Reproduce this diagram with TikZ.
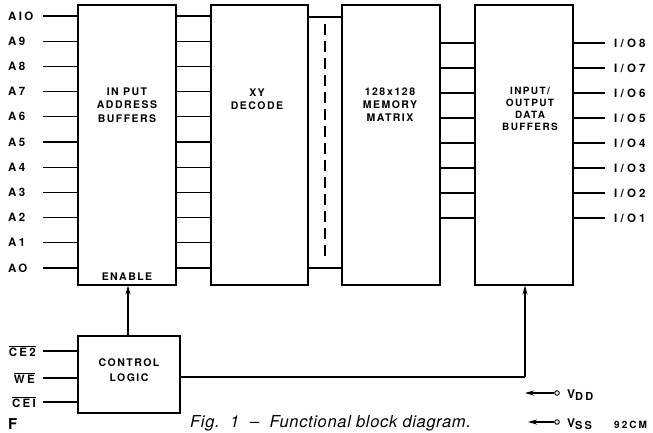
\documentclass[tikz,border=0pt]{standalone}
\usepackage{fontspec}
\setmainfont{TeX Gyre Heros}
\newfontfamily\blkfont[LetterSpace=14]{TeX Gyre Heros}
\newfontfamily\pinfont[LetterSpace=20]{TeX Gyre Heros}
\newfontfamily\iofont[LetterSpace=28]{TeX Gyre Heros}
\newfontfamily\capfont[LetterSpace=4]{TeX Gyre Heros}
\usetikzlibrary{arrows.meta}
\begin{document}
\begin{tikzpicture}[x=1pt,y=-1pt,
  wire/.style={line width=1.1pt},
  blk/.style={draw,line width=1.1pt,minimum width=98pt,minimum height=280pt,inner sep=0pt},
  ctl/.style={draw,line width=1.1pt,minimum width=102pt,minimum height=77pt,inner sep=0pt},
  txt/.style={font=\blkfont\fontsize{10.5}{13.5}\selectfont\bfseries,align=center,inner sep=0pt},
  pin/.style={font=\pinfont\fontsize{11.5}{12}\selectfont\bfseries,inner sep=0pt},
  iopin/.style={font=\iofont\fontsize{11.5}{12}\selectfont\bfseries,inner sep=0pt},
  arr/.style={line width=1.1pt,-{Stealth[length=9pt,width=5pt]}}]
\useasboundingbox (0,0) rectangle (653,433);
% blocks
\node[blk] (iab) at (127,145) {};
\node[blk,minimum width=97pt] (xyd) at (259.5,145) {};
\node[blk] (mem) at (391,145) {};
\node[blk] (iod) at (524,145) {};
\node[ctl] (ctl) at (129,374.5) {};
% block texts
\node[txt] (t1) at (127,105) {IN PUT\\ADDRESS\\BUFFERS};
\node[txt] (t2) at (257,99) {XY\\DECODE};
\node[txt,font=\blkfont\fontsize{10.5}{13}\selectfont\bfseries] (t3) at (390,105) {128\,x\,128\\MEMORY\\MATRIX};
\node[txt,font=\blkfont\fontsize{10}{12}\selectfont\bfseries] (t4) at (530,109) {INPUT/\\OUTPUT\\DATA\\BUFFERS};
\node[txt] (en) at (127,277) {ENABLE};
\node[txt,font=\blkfont\fontsize{10.5}{14.5}\selectfont\bfseries] (cl) at (129,370) {CONTROL\\LOGIC};
% address inputs and buffer->decode lines
\foreach \n/\lab [count=\i from 0] in {10/AIO,9/A9,8/A8,7/A7,6/A6,5/A5,4/A4,3/A3,2/A2,1/A1,0/AO}{
  \pgfmathsetmacro{\yy}{16+25.2*\i}
  \coordinate (ain\n) at (43,\yy);
  \node[pin,anchor=west] (la\n) at (8,\yy) {\lab};
  \draw[wire] (ain\n) -- (ain\n -| iab.west);
  \draw[wire] (iab.east |- ain\n) -- (xyd.west |- ain\n);
}
% decode <-> matrix channel
\draw[wire] (xyd.east |- 0,17) -- (mem.west |- 0,17);
\draw[wire] (xyd.east |- 0,268) -- (mem.west |- 0,268);
\coordinate (dtop) at (325,24);
\coordinate (dbot) at (325,258);
\draw[line width=1.1pt,dash pattern=on 11pt off 6pt] (dtop) -- (dbot);
% matrix -> IO buffers, IO pins
\foreach \k [count=\i from 0] in {8,7,6,5,4,3,2,1}{
  \pgfmathsetmacro{\yy}{43+25*\i}
  \coordinate (io\k) at (605,\yy);
  \draw[wire] (mem.east |- io\k) -- (iod.west |- io\k);
  \draw[wire] (iod.east |- io\k) -- (io\k);
  \node[iopin,anchor=west] (lio\k) at (614,\yy) {I/O\k};
}
% control inputs
\coordinate (c2) at (43,351);
\coordinate (cw) at (43,378);
\coordinate (c1) at (43,402);
\draw[wire] (c2) -- (c2 -| ctl.west);
\draw[wire] (cw) -- (cw -| ctl.west);
\draw[wire] (c1) -- (c1 -| ctl.west);
\node[pin,anchor=east] (lc2) at (36,351) {$\overline{\mbox{CE2}}$};
\node[pin,anchor=east] (lcw) at (35,378) {$\overline{\mbox{WE}}$};
\node[pin,anchor=east] (lc1) at (36,402) {$\overline{\mbox{CEI}}$};
% control arrows
\draw[arr] (ctl.north -| 128,0) -- (iab.south -| 128,0);
\coordinate (bend) at (525,377);
\draw[wire] (ctl.east |- bend) -- (bend);
\draw[arr] (bend) -- (iod.south -| bend);
% supply pins
\node[circle,draw,line width=1pt,minimum size=4.5pt,inner sep=0pt] (vdd) at (557,393) {};
\node[circle,draw,line width=1pt,minimum size=4.5pt,inner sep=0pt] (vss) at (557,422) {};
\coordinate (vdde) at (525,393);
\coordinate (vsse) at (528,422);
\draw[arr] (vdd) -- (vdde);
\draw[arr] (vss) -- (vsse);
\node[font=\pinfont\fontsize{12}{12}\selectfont\bfseries,anchor=west,inner sep=0pt] (lvdd) at (567,395) {V\raisebox{-2.5pt}{\fontsize{11}{11}\selectfont DD}};
\node[font=\pinfont\fontsize{12}{12}\selectfont\bfseries,anchor=west,inner sep=0pt] (lvss) at (567,424) {V\raisebox{-2.5pt}{\fontsize{11}{11}\selectfont SS}};
% caption and fragments
\node[font=\capfont\fontsize{16.5}{16.5}\selectfont\itshape,anchor=base west,inner sep=0pt] (cap) at (190,427) {Fig.\ \ 1\ \ \textendash\ \ Functional block diagram.};
\node[font=\pinfont\fontsize{10}{10}\selectfont\bfseries,anchor=west,inner sep=0pt] (n92) at (614,425) {92CM};
\node[font=\fontsize{15}{15}\selectfont\bfseries,anchor=north west,inner sep=0pt] (ff) at (8,418) {F};
\end{tikzpicture}
\end{document}
